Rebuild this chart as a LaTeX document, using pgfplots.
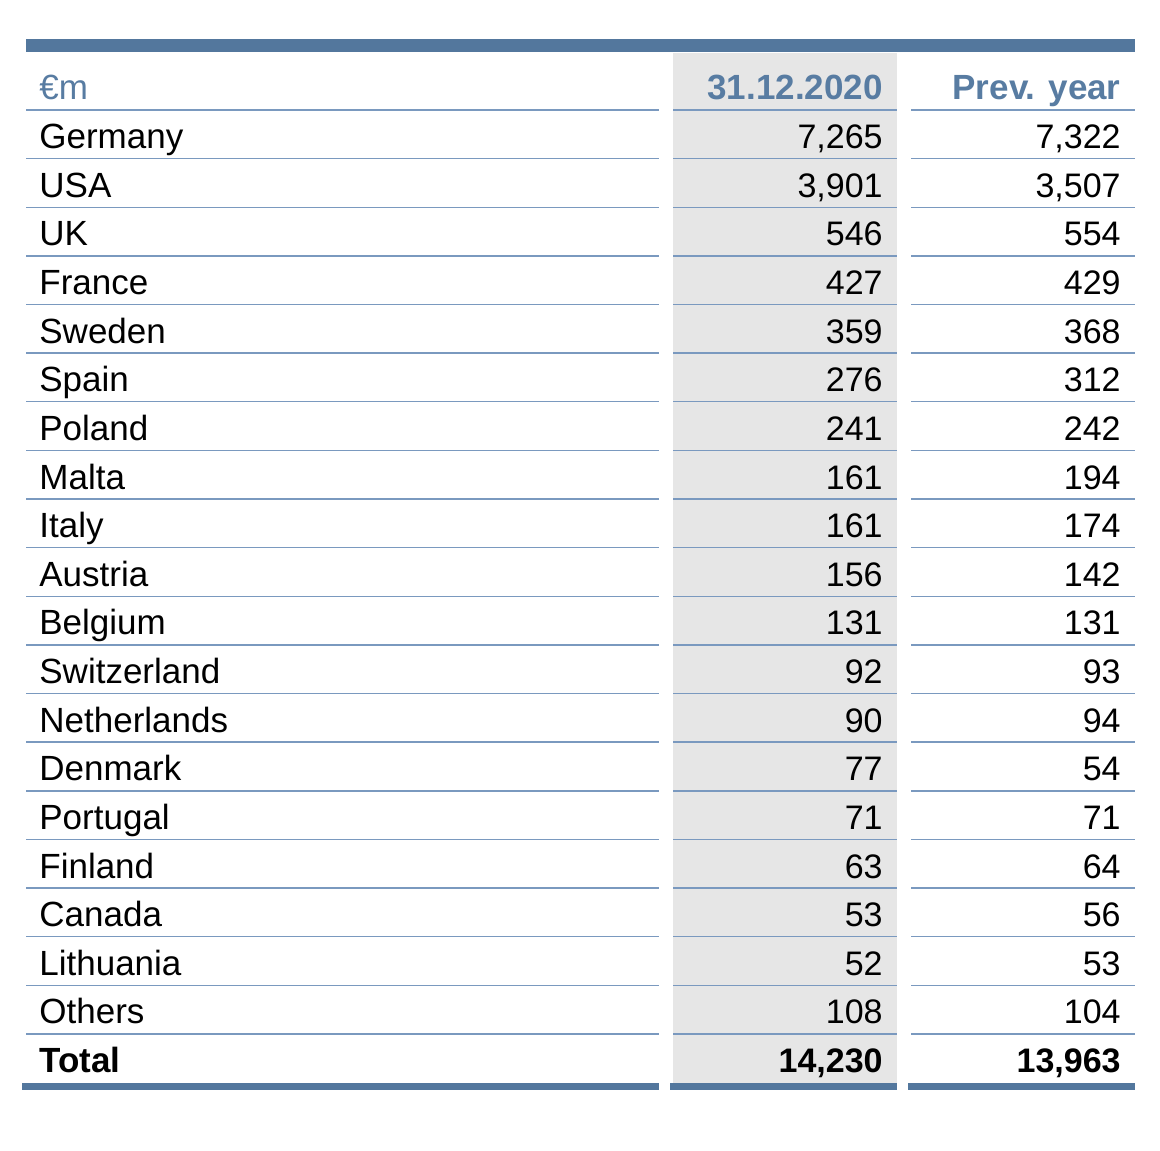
\documentclass[border=0pt]{standalone}
\usepackage{fontspec}
\setmainfont{Liberation Sans}
\usepackage{pgfplots}
\pgfplotsset{compat=1.18}
\usepackage{pgfplotstable}

\definecolor{barblue}{RGB}{83,119,157}
\definecolor{ruleblue}{RGB}{122,153,191}
\definecolor{headblue}{RGB}{88,124,162}
\definecolor{colgray}{RGB}{230,230,230}

% row index, country, 31.12.2020, previous year (EUR m)
\pgfplotstableread{
row name cur prev
1 Germany 7265 7322
2 USA 3901 3507
3 UK 546 554
4 France 427 429
5 Sweden 359 368
6 Spain 276 312
7 Poland 241 242
8 Malta 161 194
9 Italy 161 174
10 Austria 156 142
11 Belgium 131 131
12 Switzerland 92 93
13 Netherlands 90 94
14 Denmark 77 54
15 Portugal 71 71
16 Finland 63 64
17 Canada 53 56
18 Lithuania 52 53
19 Others 108 104
}\regions

\pgfplotstableread{
row name cur prev
20 Total 14230 13963
}\totals

\begin{document}
\begin{tikzpicture}
\begin{axis}[
  width=580pt, height=575pt, scale only axis,
  xmin=0, xmax=1160, ymin=0, ymax=1150, y dir=reverse,
  hide axis, clip=false,
  /pgf/number format/fixed,
  /pgf/number format/precision=0,
  /pgf/number format/1000 sep={,},
  /pgf/number format/assume math mode=true,
  every node near coord/.style={inner sep=0pt, text=black, font=\fontsize{17}{20}\selectfont},
]
% keep the page the size of the reference
\addplot[draw=none, forget plot] coordinates {(0,0) (1160,1150)};

% shaded current-year column
\fill[colgray] (axis cs:673,53) rectangle (axis cs:897,1083);
% top and bottom bars
\fill[barblue] (axis cs:26,39.5) rectangle (axis cs:1135,52.5);
\fill[barblue] (axis cs:22,1083) rectangle (axis cs:659,1090);
\fill[barblue] (axis cs:670,1083) rectangle (axis cs:897,1090);
\fill[barblue] (axis cs:908,1083) rectangle (axis cs:1135,1090);
% row rules
\pgfplotsinvokeforeach{0,...,19}{
  \draw[ruleblue, line width=0.7pt] (axis cs:26,{110+48.63*#1}) -- (axis cs:659,{110+48.63*#1});
  \draw[ruleblue, line width=0.7pt] (axis cs:673,{110+48.63*#1}) -- (axis cs:897,{110+48.63*#1});
  \draw[ruleblue, line width=0.7pt] (axis cs:911,{110+48.63*#1}) -- (axis cs:1135,{110+48.63*#1});
}

% header
\node[anchor=base west, inner sep=0pt, text=headblue, font=\fontsize{17.5}{20}\selectfont] at (axis cs:39,100) {€m};
\node[anchor=base east, inner sep=0pt, text=headblue, font=\fontsize{17.5}{20}\selectfont\bfseries] at (axis cs:883,100) {31.12.2020};
\node[anchor=base east, inner sep=0pt, text=headblue, font=\fontsize{17.5}{20}\selectfont\bfseries] at (axis cs:1121,100) {Prev. year};

% country names
\addplot[only marks, mark=none, nodes near coords, point meta=explicit symbolic,
  nodes near coords style={anchor=base west, font=\fontsize{17.5}{20}\selectfont}]
  table[x expr=39, y expr={100+48.63*\thisrow{row}}, meta=name] {\regions};
% 31.12.2020
\addplot[only marks, mark=none, nodes near coords, point meta=explicit,
  nodes near coords style={anchor=base east}]
  table[x expr=883, y expr={100+48.63*\thisrow{row}}, meta=cur] {\regions};
% previous year
\addplot[only marks, mark=none, nodes near coords, point meta=explicit,
  nodes near coords style={anchor=base east}]
  table[x expr=1121, y expr={100+48.63*\thisrow{row}}, meta=prev] {\regions};

% total row
\addplot[only marks, mark=none, nodes near coords, point meta=explicit symbolic,
  nodes near coords style={anchor=base west, font=\fontsize{17.5}{20}\selectfont\bfseries}]
  table[x expr=39, y expr={100+48.63*\thisrow{row}}, meta=name] {\totals};
\addplot[only marks, mark=none, nodes near coords, point meta=explicit,
  nodes near coords style={anchor=base east, font=\fontsize{17}{20}\selectfont\bfseries}]
  table[x expr=883, y expr={100+48.63*\thisrow{row}}, meta=cur] {\totals};
\addplot[only marks, mark=none, nodes near coords, point meta=explicit,
  nodes near coords style={anchor=base east, font=\fontsize{17}{20}\selectfont\bfseries}]
  table[x expr=1121, y expr={100+48.63*\thisrow{row}}, meta=prev] {\totals};
\end{axis}
\end{tikzpicture}
\end{document}
